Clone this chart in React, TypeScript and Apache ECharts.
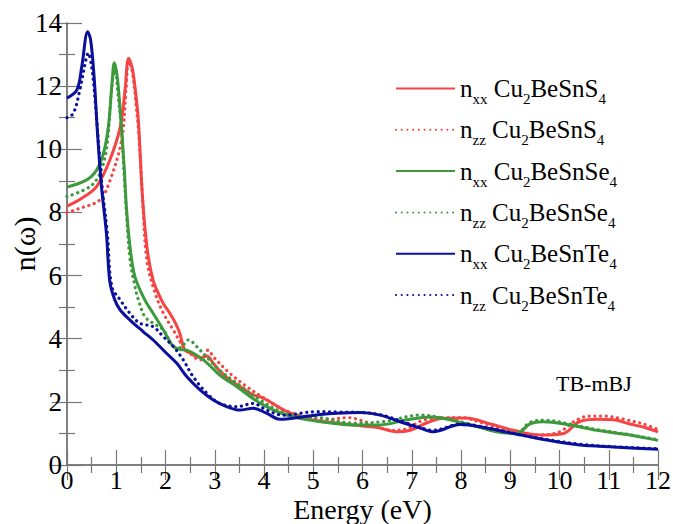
import React, { useEffect, useRef } from "react";
import * as echarts from "echarts";

// ---- data (Energy in eV, refractive index n) ----
const sXxE = [0, 0.3, 0.6, 0.87, 1.08, 1.18, 1.25, 1.32, 1.38, 1.45, 1.52, 1.58, 1.65, 1.75, 1.85, 1.96, 2.09, 2.2, 2.29, 2.39, 2.5, 2.63, 2.75, 2.84, 2.97, 3.1, 3.31, 3.55, 3.78, 3.92, 4.06, 4.4, 4.8, 5.1, 5.5, 5.8, 6.1, 6.36, 6.7, 6.97, 7.3, 7.6, 8.1, 8.6, 9.06, 9.6, 10.08, 10.4, 10.76, 11.1, 11.43, 11.75, 12];
const sXxN = [8.2, 8.45, 8.82, 9.66, 10.7, 11.9, 12.88, 12.6, 11.98, 10.9, 8.8, 7.55, 6.6, 5.85, 5.45, 5.1, 4.8, 4.5, 4.17, 3.64, 3.55, 3.43, 3.4, 3.45, 3.22, 2.98, 2.69, 2.45, 2.22, 2.16, 2.06, 1.74, 1.5, 1.4, 1.33, 1.27, 1.22, 1.17, 1.05, 1.1, 1.33, 1.47, 1.49, 1.3, 1.1, 0.95, 1.0, 1.37, 1.45, 1.43, 1.3, 1.18, 1.05];

const sZzE = [0, 0.3, 0.67, 0.87, 1.11, 1.2, 1.25, 1.32, 1.39, 1.46, 1.53, 1.62, 1.79, 1.96, 2.16, 2.36, 2.5, 2.7, 2.87, 2.97, 3.31, 3.65, 4.0, 4.4, 4.8, 5.3, 5.7, 6.0, 6.3, 6.6, 6.9, 7.2, 7.6, 8.0, 8.4, 8.8, 9.2, 9.6, 10.0, 10.3, 10.6, 10.9, 11.3, 11.7, 12];
const sZzN = [8.0, 8.15, 8.4, 9.0, 10.3, 11.9, 12.78, 12.5, 11.6, 10.4, 8.6, 6.5, 5.44, 4.8, 4.27, 3.75, 3.53, 3.33, 3.64, 3.43, 2.9, 2.48, 2.12, 1.75, 1.55, 1.45, 1.5, 1.4, 1.2, 1.1, 1.15, 1.4, 1.5, 1.5, 1.35, 1.15, 1.0, 0.95, 1.05, 1.38, 1.55, 1.55, 1.45, 1.3, 1.12];

const seXxE = [0, 0.4, 0.6, 0.74, 0.84, 0.91, 0.96, 1.02, 1.09, 1.16, 1.21, 1.28, 1.38, 1.58, 1.75, 1.96, 2.16, 2.3, 2.43, 2.77, 3.1, 3.45, 3.92, 4.46, 5.14, 5.8, 6.36, 6.9, 7.37, 8.05, 8.72, 9.13, 9.4, 9.67, 10.2, 10.76, 11.43, 12];
const seXxN = [8.8, 9.03, 9.34, 9.87, 10.72, 12.0, 12.74, 12.3, 11.03, 9.45, 8.08, 6.91, 5.96, 5.23, 4.8, 4.27, 3.75, 3.66, 3.64, 3.33, 2.85, 2.48, 1.96, 1.58, 1.37, 1.27, 1.27, 1.43, 1.52, 1.33, 1.05, 1.0, 1.3, 1.37, 1.27, 1.1, 0.95, 0.78];

const seZzE = [0, 0.47, 0.67, 0.81, 0.91, 0.97, 1.04, 1.11, 1.16, 1.21, 1.28, 1.38, 1.45, 1.58, 1.75, 1.96, 2.16, 2.3, 2.46, 2.7, 3.1, 3.45, 3.92, 4.46, 5.14, 5.8, 6.45, 7.17, 7.6, 8.05, 8.72, 9.13, 9.4, 9.7, 10.2, 10.76, 11.43, 12];
const seZzN = [8.5, 8.82, 9.24, 10.08, 11.98, 12.5, 11.67, 10.5, 9.2, 7.9, 6.5, 5.65, 5.23, 4.7, 4.49, 4.27, 3.75, 3.72, 3.96, 3.64, 3.0, 2.59, 2.06, 1.62, 1.5, 1.33, 1.38, 1.58, 1.5, 1.35, 1.07, 1.02, 1.35, 1.42, 1.3, 1.12, 0.96, 0.8];

const teXxE = [0, 0.2, 0.3, 0.42, 0.48, 0.55, 0.62, 0.7, 0.8, 0.87, 0.97, 1.08, 1.28, 1.55, 1.75, 2.02, 2.23, 2.43, 2.7, 2.97, 3.24, 3.51, 3.78, 4.05, 4.32, 4.8, 5.14, 5.48, 5.95, 6.36, 6.76, 7.17, 7.44, 7.98, 8.39, 9.06, 9.74, 10.42, 11.1, 12];
const teXxN = [11.62, 11.88, 12.62, 13.72, 13.46, 12.3, 10.5, 8.82, 7.34, 5.8, 5.23, 4.91, 4.59, 4.22, 3.96, 3.54, 3.22, 2.8, 2.38, 2.06, 1.85, 1.74, 1.8, 1.64, 1.45, 1.53, 1.6, 1.64, 1.66, 1.58, 1.37, 1.17, 1.05, 1.28, 1.21, 1.0, 0.79, 0.63, 0.57, 0.5];

const teZzE = [0, 0.13, 0.26, 0.39, 0.43, 0.5, 0.57, 0.64, 0.72, 0.82, 0.91, 1.08, 1.28, 1.48, 1.75, 1.96, 2.16, 2.36, 2.56, 2.84, 3.1, 3.45, 3.78, 4.05, 4.39, 5.07, 5.5, 6.0, 6.4, 7.0, 7.44, 8.0, 8.4, 9.0, 9.7, 10.4, 11.1, 12];
const teZzN = [11.0, 11.14, 11.88, 12.88, 13.05, 12.62, 11.56, 10.19, 8.71, 7.34, 5.65, 5.23, 4.8, 4.49, 4.38, 4.06, 3.75, 3.33, 2.8, 2.27, 1.95, 1.85, 1.95, 1.74, 1.58, 1.69, 1.68, 1.66, 1.58, 1.28, 1.1, 1.3, 1.22, 1.02, 0.82, 0.66, 0.58, 0.52];

const xTicks = [0, 12];
const yTicks = [0, 14];

const seriesNames = [
  "nxx Cu2BeSnS4",
  "nzz Cu2BeSnS4",
  "nxx Cu2BeSnSe4",
  "nzz Cu2BeSnSe4",
  "nxx Cu2BeSnTe4",
  "nzz Cu2BeSnTe4",
];
const richLabels: Record<string, string> = {
  "nxx Cu2BeSnS4": "{m|n}{s|xx}{m| Cu}{s|2}{m|BeSnS}{s|4}",
  "nzz Cu2BeSnS4": "{m|n}{s|zz}{m| Cu}{s|2}{m|BeSnS}{s|4}",
  "nxx Cu2BeSnSe4": "{m|n}{s|xx}{m| Cu}{s|2}{m|BeSnSe}{s|4}",
  "nzz Cu2BeSnSe4": "{m|n}{s|zz}{m| Cu}{s|2}{m|BeSnSe}{s|4}",
  "nxx Cu2BeSnTe4": "{m|n}{s|xx}{m| Cu}{s|2}{m|BeSnTe}{s|4}",
  "nzz Cu2BeSnTe4": "{m|n}{s|zz}{m| Cu}{s|2}{m|BeSnTe}{s|4}",
};

const RED = "#f64444";
const GREEN = "#3c9a3c";
const BLUE = "#0a0f9c";
const FONT = "Liberation Serif";

const zip = (xs: number[], ys: number[]) => xs.map((x, i) => [x, ys[i]]);

export default function App() {
  const ref = useRef<HTMLDivElement>(null);
  useEffect(() => {
    if (!ref.current) return;
    const chart = echarts.init(ref.current, undefined, { renderer: "svg" });
    const mk = (name: string, xs: number[], ys: number[], color: string, dotted: boolean) => ({
      name,
      type: "line",
      data: zip(xs, ys),
      smooth: 0.35,
      symbol: "none",
      color,
      lineStyle: dotted
        ? { color, width: 3.2, type: [0.1, 5.6], cap: "round" }
        : { color, width: 3 },
    });
    const tickColor = "#777";
    const xBase = {
      type: "value",
      min: xTicks[0],
      max: xTicks[1],
      interval: 1,
      splitLine: { show: false },
      axisLine: { show: true, lineStyle: { color: tickColor, width: 1.5 } },
      axisTick: { show: true, inside: true, length: 15, lineStyle: { color: tickColor, width: 1.2 } },
      minorTick: { show: true, splitNumber: 2, length: 8, lineStyle: { color: tickColor, width: 1.2 } },
    };
    const yBase = {
      type: "value",
      min: yTicks[0],
      max: yTicks[1],
      interval: 2,
      splitLine: { show: false },
      axisLine: { show: true, lineStyle: { color: tickColor, width: 1.5 } },
      axisTick: { show: true, inside: true, length: 15, lineStyle: { color: tickColor, width: 1.2 } },
      minorTick: { show: true, splitNumber: 2, length: 8, lineStyle: { color: tickColor, width: 1.2 } },
    };
    chart.setOption({
      animation: false,
      backgroundColor: "#fff",
      grid: { left: 67, right: 15, top: 23, bottom: 59, containLabel: false, outerBoundsMode: "none" },
      xAxis: [
        {
          ...xBase,
          position: "bottom",
          name: "Energy (eV)",
          nameLocation: "middle",
          nameGap: 30,
          nameMoveOverlap: false,
          nameTextStyle: { fontFamily: FONT, fontSize: 28, color: "#000", lineHeight: 28 },
          axisLabel: { fontFamily: FONT, fontSize: 26, color: "#000", margin: 2, lineHeight: 26 },
        },
        { ...xBase, position: "top", axisLabel: { show: false } },
      ],
      yAxis: [
        {
          ...yBase,
          position: "left",
          name: "n(ω)",
          nameLocation: "middle",
          nameGap: 28,
          nameRotate: 90,
          nameMoveOverlap: false,
          nameTextStyle: { fontFamily: FONT, fontSize: 30, color: "#000" },
          axisLabel: { fontFamily: FONT, fontSize: 27, color: "#000", margin: 5 },
        },
        { ...yBase, position: "right", axisLabel: { show: false } },
      ],
      legend: {
        orient: "vertical",
        left: 390,
        top: 71,
        itemWidth: 59,
        itemHeight: 14,
        itemGap: 10.8,
        data: seriesNames,
        itemStyle: { opacity: 0 },
        formatter: (name: string) => richLabels[name],
        textStyle: {
          fontFamily: FONT,
          color: "#000",
          rich: {
            m: { fontFamily: FONT, fontSize: 25, lineHeight: 36, color: "#000" },
            s: { fontFamily: FONT, fontSize: 15, lineHeight: 14, verticalAlign: "bottom", color: "#000" },
          },
        },
      },
      graphic: [
        {
          type: "text",
          left: 556,
          top: 372,
          style: { text: "TB-mBJ", fontFamily: FONT, fontSize: 22, fill: "#000" },
        },
      ],
      series: [
        mk(seriesNames[0], sXxE, sXxN, RED, false),
        mk(seriesNames[1], sZzE, sZzN, RED, true),
        mk(seriesNames[2], seXxE, seXxN, GREEN, false),
        mk(seriesNames[3], seZzE, seZzN, GREEN, true),
        mk(seriesNames[4], teXxE, teXxN, BLUE, false),
        mk(seriesNames[5], teZzE, teZzN, BLUE, true),
      ],
    });
    return () => chart.dispose();
  }, []);
  return (
    <div
      ref={ref}
      style={{ position: "fixed", left: 0, top: 0, width: 673, height: 524 }}
    />
  );
}
